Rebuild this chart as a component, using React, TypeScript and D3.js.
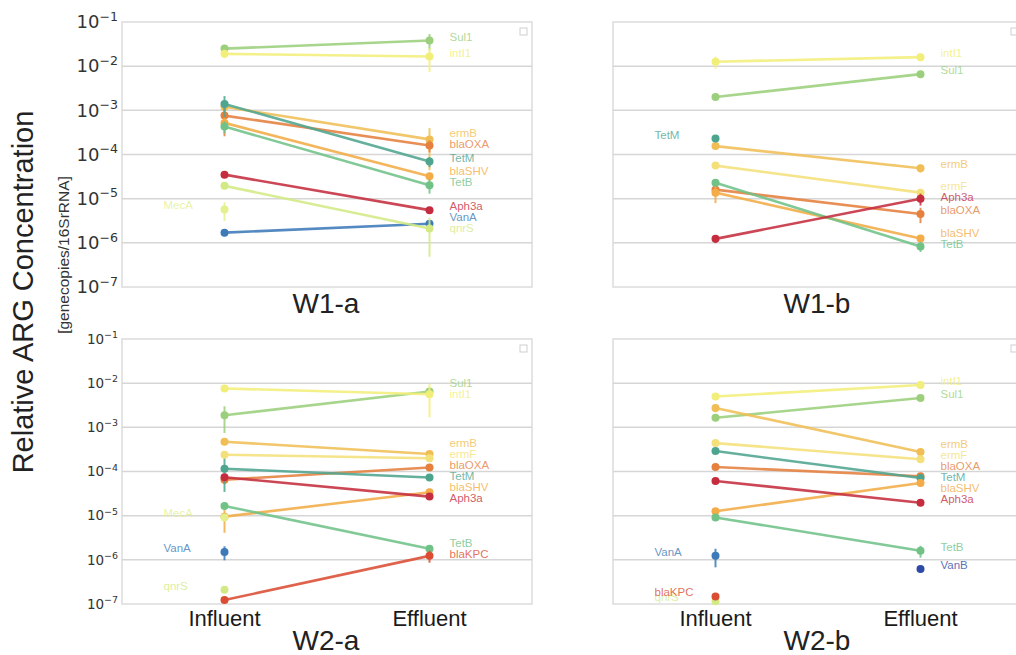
import React from 'react';
import * as d3 from 'd3';

// genes in the order they are plotted
const genes = ['Sul1', 'intI1', 'ermB', 'ermF', 'blaOXA', 'TetM', 'blaSHV', 'TetB', 'Aph3a', 'VanA', 'VanB', 'qnrS', 'MecA', 'blaKPC'];
const geneColors = ['#9bcf7c', '#f2ee7a', '#f0be55', '#f4e07a', '#e5803f', '#4ea58f', '#f3ac47', '#70c287', '#c52d3f', '#3c7ab8', '#2e4aa6', '#d3ea84', '#e4f08e', '#db4d33'];

const sites = ['Influent', 'Effluent'];
const tickExps = [-1, -2, -3, -4, -5, -6, -7];

// relative concentrations (null = not detected)
const w1aInf = [2.5e-2, 1.9e-2, 1.2e-3, null, 7.6e-4, 1.4e-3, 5.2e-4, 4.3e-4, 3.5e-5, 1.7e-6, null, 1.95e-5, 5.7e-6, null];
const w1aEff = [3.8e-2, 1.65e-2, 2.2e-4, null, 1.6e-4, 6.9e-5, 3.2e-5, 2.0e-5, 5.5e-6, 2.7e-6, null, 2.1e-6, null, null];
const w1aInfErr = [0, 0.2, 0.3, 0, 0.66, 0.5, 0.3, 0.3, 0, 0, 0, 0, 0.45, 0];
const w1aEffErr = [0.4, 0.55, 0.8, 0, 0.3, 0.25, 0.2, 0.35, 0, 0, 0, 0.77, 0, 0];

const w1bInf = [2.0e-3, 1.26e-2, 1.55e-4, 5.6e-5, 1.6e-5, 2.3e-4, 1.37e-5, 2.3e-5, 1.23e-6, null, null, null, null, null];
const w1bEff = [6.6e-3, 1.6e-2, 4.9e-5, 1.37e-5, 4.5e-6, null, 1.25e-6, 8.3e-7, 1.0e-5, null, null, null, null, null];
const w1bInfErr = [0, 0.3, 0, 0, 0.2, 0, 0.42, 0.15, 0.2, 0, 0, 0, 0, 0];
const w1bEffErr = [0, 0, 0.2, 0, 0.38, 0, 0, 0.25, 0.3, 0, 0, 0, 0, 0];

const w2aInf = [1.87e-3, 7.6e-3, 4.7e-4, 2.4e-4, 6.5e-5, 1.15e-4, 9.5e-6, 1.66e-5, 7.4e-5, 1.5e-6, null, 2.1e-7, 9.1e-6, 1.23e-7];
const w2aEff = [6.5e-3, 5.6e-3, 2.5e-4, 2.0e-4, 1.23e-4, 7.3e-5, 3.4e-5, 1.78e-6, 2.7e-5, null, null, null, null, 1.23e-6];
const w2aInfErr = [0.6, 0, 0, 0, 0.2, 0.7, 0.57, 0, 0.15, 0.35, 0, 0, 0, 0];
const w2aEffErr = [0.15, 0.7, 0, 0, 0, 0, 0.2, 0.2, 0, 0, 0, 0, 0, 0.3];

const w2bInf = [1.65e-3, 5.0e-3, 2.75e-3, 4.4e-4, 1.26e-4, 2.9e-4, 1.26e-5, 9.1e-6, 6.1e-5, 1.23e-6, null, 1.15e-7, null, 1.48e-7];
const w2bEff = [4.6e-3, 9.1e-3, 2.75e-4, 1.9e-4, 7.8e-5, 7.1e-5, 5.5e-5, 1.6e-6, 1.96e-5, null, 6.2e-7, null, null, null];
const w2bInfErr = [0, 0, 0.2, 0, 0, 0, 0.15, 0, 0, 0.45, 0, 0, 0, 0];
const w2bEffErr = [0, 0, 0, 0, 0, 0, 0, 0.3, 0, 0, 0, 0, 0, 0];

const W = 410;
const H = 265;

const panels = [
  { title: 'W1-a', x0: 122, y0: 22, inf: w1aInf, eff: w1aEff, infErr: w1aInfErr, effErr: w1aEffErr, ticks: 18, siteLabels: false },
  { title: 'W1-b', x0: 613, y0: 22, inf: w1bInf, eff: w1bEff, infErr: w1bInfErr, effErr: w1bEffErr, ticks: 0, siteLabels: false },
  { title: 'W2-a', x0: 122, y0: 339, inf: w2aInf, eff: w2aEff, infErr: w2aInfErr, effErr: w2aEffErr, ticks: 13.5, siteLabels: true },
  { title: 'W2-b', x0: 613, y0: 339, inf: w2bInf, eff: w2bEff, infErr: w2bInfErr, effErr: w2bEffErr, ticks: 0, siteLabels: true },
];

// push overlapping labels apart
function spread(items: { y: number }[], gap: number) {
  items.sort((a, b) => a.y - b.y);
  for (let it = 0; it < 200; it++) {
    for (let i = 0; i < items.length - 1; i++) {
      const d = items[i + 1].y - items[i].y;
      if (d < gap) {
        const s = (gap - d) / 2;
        items[i].y -= s;
        items[i + 1].y += s;
      }
    }
  }
  return items;
}

const SANS = '"Liberation Sans", Arial, sans-serif';

function Panel({ p }: { p: typeof panels[number] }) {
  const y = d3.scaleLog().domain([1e-7, 1e-1]).range([H, 0]).clamp(true);
  const x = d3.scalePoint().domain(sites).range([0, W]).padding(0.5);
  const xi = x('Influent') as number;
  const xe = x('Effluent') as number;

  const rightLabels = spread(
    genes.map((g, i) => ({ g, i, y: p.eff[i] != null ? y(p.eff[i] as number) - 4 : NaN })).filter(d => !isNaN(d.y)),
    11
  );
  const leftLabels = genes
    .map((g, i) => ({ g, i, y: p.inf[i] != null && p.eff[i] == null ? y(p.inf[i] as number) - 4 : NaN }))
    .filter(d => !isNaN(d.y));

  const errBar = (v: number | null, e: number, cx: number, c: string, key: string) => {
    if (v == null || !e) return null;
    return <line key={key} x1={cx} x2={cx} y1={y(v * (1 + e))} y2={y(Math.max(v * (1 - e), 1e-9))} stroke={c} strokeWidth={2} strokeOpacity={0.85} />;
  };

  return (
    <g transform={`translate(${p.x0},${p.y0})`}>
      <rect x={0} y={0} width={W} height={H} fill="#fff" stroke="#dcdcdc" strokeWidth={1.5} />
      {tickExps.slice(1, -1).map(e => (
        <line key={e} x1={0} x2={W} y1={y(Math.pow(10, e))} y2={y(Math.pow(10, e))} stroke="#d6d6d6" strokeWidth={1.5} />
      ))}
      {p.ticks > 0 && tickExps.map(e => (
        <text key={'t' + e} x={-4} y={y(Math.pow(10, e))} dy="0.35em" textAnchor="end" fontFamily='"DejaVu Sans", sans-serif' fontSize={p.ticks} fill="#333">
          10<tspan dy={-p.ticks * 0.42} fontSize={p.ticks * 0.7}>{'\u2212' + -e}</tspan>
        </text>
      ))}
      <rect x={W - 12} y={6} width={7} height={7} fill="#fff" stroke="#cfcfcf" strokeWidth={1} />
      {genes.map((g, i) => {
        const a = p.inf[i];
        const b = p.eff[i];
        const c = geneColors[i];
        return (
          <g key={g}>
            {a != null && b != null && (
              <line x1={xi} x2={xe} y1={y(a)} y2={y(b)} stroke={c} strokeWidth={2.6} strokeOpacity={0.88} />
            )}
            {errBar(a, p.infErr[i], xi, c, 'ea')}
            {errBar(b, p.effErr[i], xe, c, 'eb')}
            {a != null && <circle cx={xi} cy={y(a)} r={4} fill={c} />}
            {b != null && <circle cx={xe} cy={y(b)} r={4} fill={c} />}
          </g>
        );
      })}
      {rightLabels.map(d => (
        <text key={'r' + d.g} x={xe + 20} y={d.y} dominantBaseline="central" fontFamily={SANS} fontSize={11.5} fill={geneColors[d.i]} fillOpacity={0.8}>{d.g}</text>
      ))}
      {leftLabels.map(d => (
        <text key={'l' + d.g} x={xi - 61} y={d.y} dominantBaseline="central" fontFamily={SANS} fontSize={11.5} fill={geneColors[d.i]} fillOpacity={0.8}>{d.g}</text>
      ))}
      {p.siteLabels && sites.map(s => (
        <text key={s} x={x(s)} y={H + 22} textAnchor="middle" fontFamily={SANS} fontSize={22} fill="#1a1a1a">{s}</text>
      ))}
      <text x={W / 2 - 1} y={p.siteLabels ? H + 46 : H + 26} textAnchor="middle" fontFamily={SANS} fontSize={28} fill="#222">{p.title}</text>
    </g>
  );
}

export default function App() {
  return (
    <svg width={1016} height={655} style={{ position: 'absolute', left: 0, top: 0, background: '#fff' }}>
      {panels.map(p => <Panel key={p.title} p={p} />)}
      <text transform="translate(33,292) rotate(-90)" textAnchor="middle" fontFamily={SANS} fontSize={29} fill="#222">Relative ARG Concentration</text>
      <text transform="translate(69,255) rotate(-90)" textAnchor="middle" fontFamily={SANS} fontSize={15.5} fill="#333">[genecopies/16SrRNA]</text>
    </svg>
  );
}
